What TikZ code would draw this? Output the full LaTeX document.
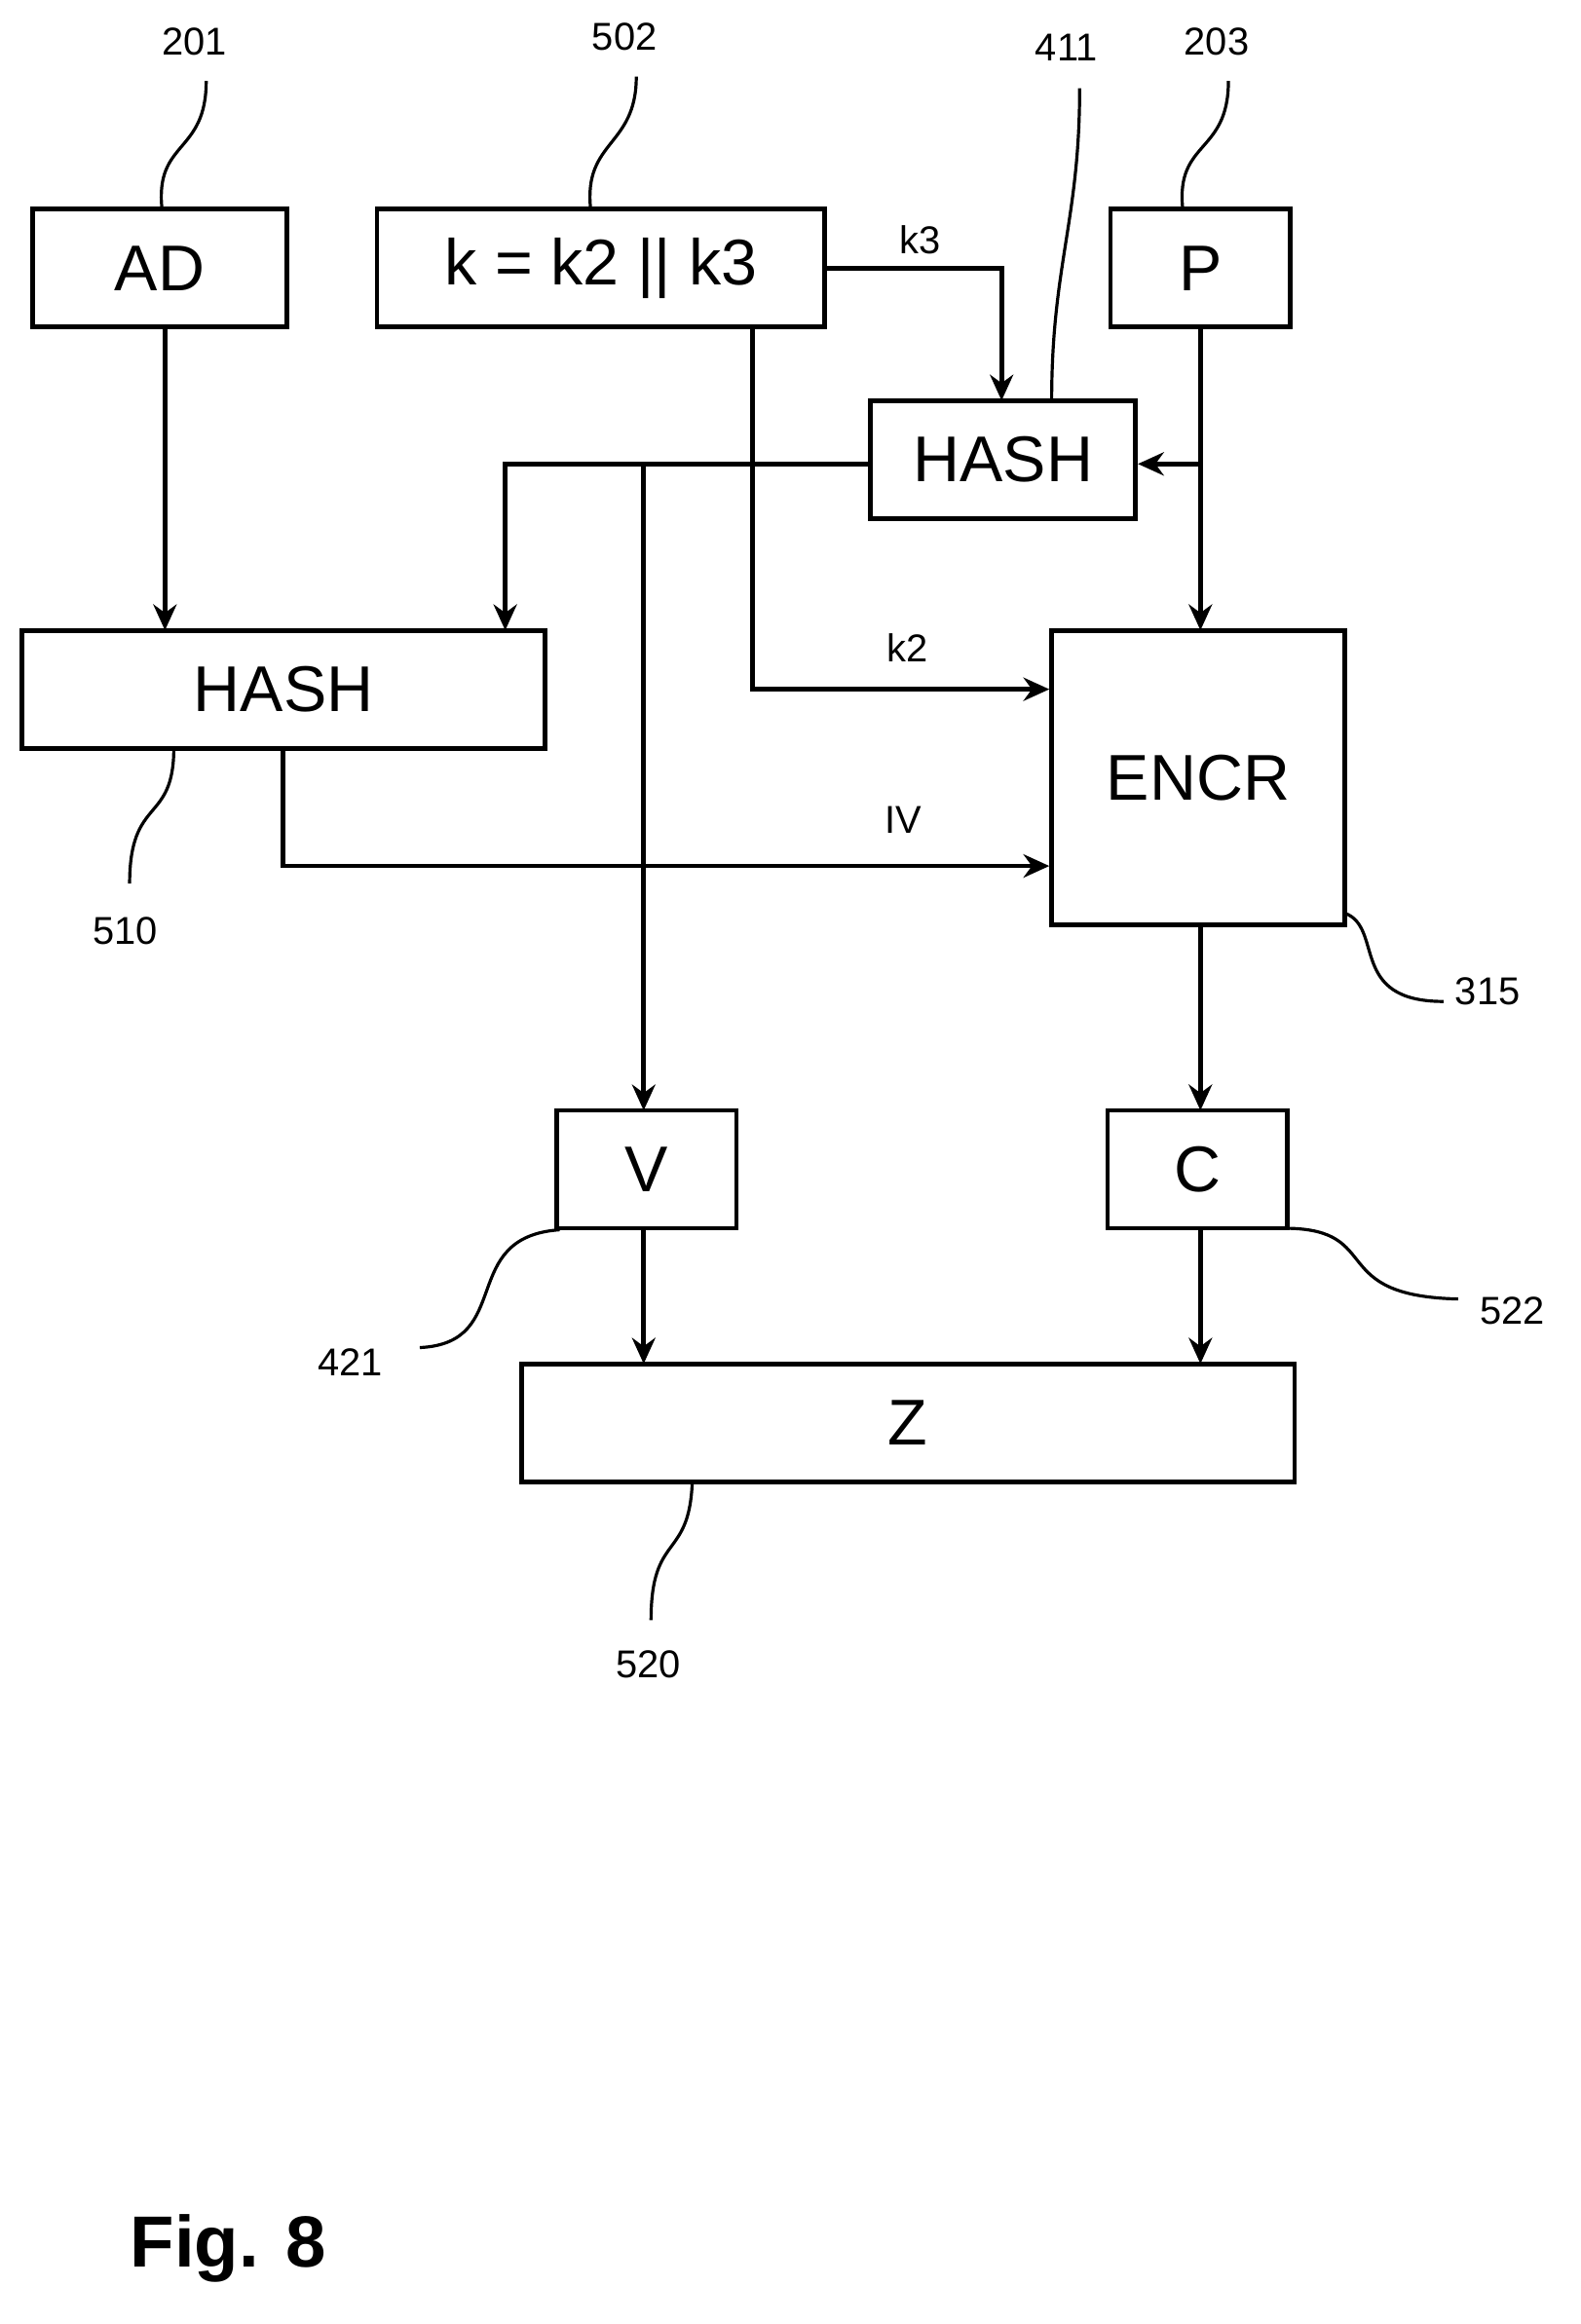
\documentclass[tikz,border=0pt]{standalone}
\usepackage{fontspec}
\setmainfont{Liberation Sans}
\usetikzlibrary{arrows.meta}
\begin{document}
\begin{tikzpicture}[x=0.02cm,y=-0.02cm,
  box/.style={draw,line width=1.8pt,inner sep=0pt,font=\fontsize{25}{28}\selectfont},
  conn/.style={line width=1.8pt,-{Stealth[length=10pt,width=9pt]}},
  lead/.style={line width=1.2pt},
  ref/.style={font=\fontsize{15}{18}\selectfont},
  sig/.style={font=\fontsize{15}{18}\selectfont}]
\useasboundingbox (0,0) rectangle (1073,1578);
\node[box,minimum width=173*0.02cm,minimum height=80*0.02cm] (AD) at (108.5,182) {AD};
\node[box,minimum width=304*0.02cm,minimum height=80*0.02cm] (K) at (408,182) {k = k2 || k3};
\node[box,minimum width=122*0.02cm,minimum height=80*0.02cm] (P) at (815,182) {P};
\node[box,minimum width=180*0.02cm,minimum height=80*0.02cm] (H1) at (681,312) {HASH};
\node[box,minimum width=355*0.02cm,minimum height=80*0.02cm] (H2) at (192.5,468) {HASH};
\node[box,minimum width=199*0.02cm,minimum height=200*0.02cm] (E) at (813.5,528) {ENCR};
\node[box,minimum width=122*0.02cm,minimum height=80*0.02cm] (V) at (439,794) {V};
\node[box,minimum width=122*0.02cm,minimum height=80*0.02cm] (C) at (813,794) {C};
\node[box,minimum width=525*0.02cm,minimum height=80*0.02cm] (Z) at (616.5,966) {Z};
\node[font=\bfseries\fontsize{28}{32}\selectfont] (fig) at (155,1527) {Fig. 8};

\draw[conn] (112,222) -- (112,428);
\draw[conn] (K.east|-0,182) -| (680,272);
\node[sig] (lk3) at (625,163) {k3};
\draw[conn] (815,222) -- (815,428);
\draw[conn] (815,315) -- (H1.east|-0,315);
\draw[conn] (H1.west|-0,315) -- (343,315) -- (343,428);
\draw[conn] (437,315) -- (437,754);
\draw[conn] (511,222) -- (511,468) -- (E.west|-0,468);
\node[sig] (lk2) at (616,440) {k2};
\draw[conn] (192,508) -- (192,588) -- (E.west|-0,588);
\node[sig] (liv) at (613,557) {IV};
\draw[conn] (815,628) -- (815,754);
\draw[conn] (437,834) -- (437,926);
\draw[conn] (815,834) -- (815,926);

\node[ref] (r201) at (132,28) {201};
\draw[lead] (110,142) .. controls (105,95) and (140,105) .. (140,55);
\node[ref] (r502) at (424,25) {502};
\draw[lead] (401,142) .. controls (396,95) and (432,100) .. (432,52);
\node[ref] (r411) at (724,32) {411};
\draw[lead] (714,272) .. controls (714,180) and (733,150) .. (733,60);
\node[ref] (r203) at (826,28) {203};
\draw[lead] (803,142) .. controls (798,95) and (834,105) .. (834,55);
\node[ref] (r510) at (85,632) {510};
\draw[lead] (118,508) .. controls (118,560) and (88,540) .. (88,600);
\node[ref] (r315) at (1010,673) {315};
\draw[lead] (913,620) .. controls (940,630) and (915,680) .. (980,680);
\node[ref] (r421) at (238,925) {421};
\draw[lead] (380,835) .. controls (310,840) and (350,912) .. (285,915);
\node[ref] (r522) at (1027,890) {522};
\draw[lead] (874,834) .. controls (940,835) and (900,880) .. (990,882);
\node[ref] (r520) at (440,1130) {520};
\draw[lead] (470,1006) .. controls (468,1060) and (442,1040) .. (442,1100);
\end{tikzpicture}
\end{document}
